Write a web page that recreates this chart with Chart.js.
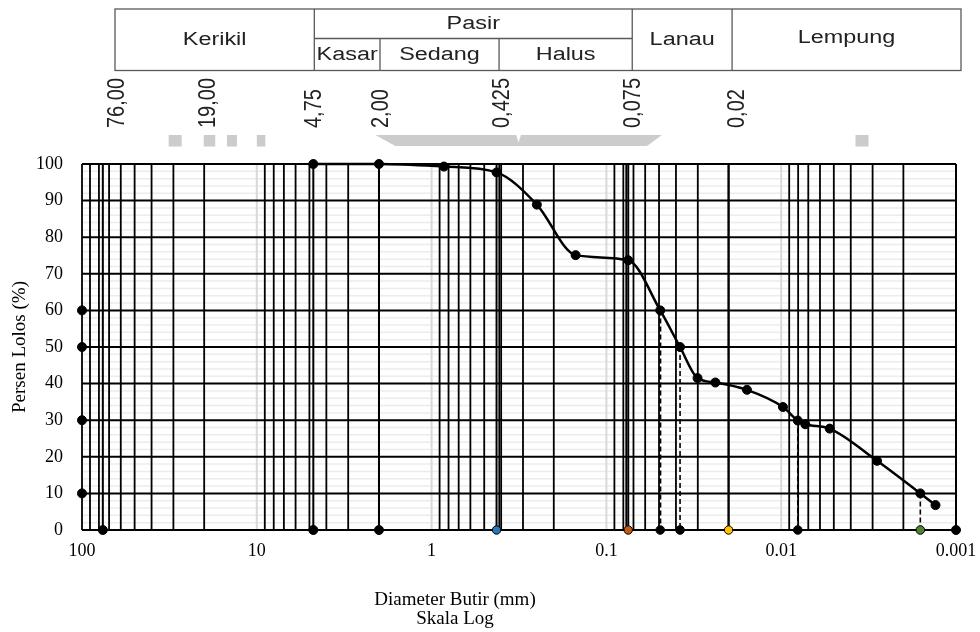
<!DOCTYPE html>
<html><head><meta charset="utf-8">
<script src="https://cdn.jsdelivr.net/npm/chart.js@4"></script>
<style>html,body{margin:0;padding:0;background:#fff}canvas{display:block}</style>
</head><body>
<canvas id="c" width="980" height="632" style="width:980px;height:632px"></canvas>
<script>
// ---- data ----
const diameters = [4.75, 2.0, 0.85, 0.425, 0.25, 0.15, 0.075, 0.0492, 0.0379, 0.0301, 0.0238, 0.0157, 0.00977, 0.00804, 0.00728, 0.00528, 0.00283, 0.0016, 0.00131];
const percentPassing = [100, 100, 99.3, 97.7, 88.9, 75.1, 73.7, 60.0, 50.0, 41.5, 40.3, 38.3, 33.6, 29.9, 28.9, 27.7, 18.9, 10.0, 6.8];
const dNames = ['D60', 'D50', 'D30', 'D10'];
const dDiameters = [0.0492, 0.0379, 0.00804, 0.0016];
const dPercents = [60, 50, 30, 10];
const dColors = ['#000000', '#000000', '#000000', '#548235'];
const boundaryDiameters = [76, 4.75, 2.0, 0.425, 0.075, 0.02, 0.001];
const boundaryColors = ['#000000', '#000000', '#000000', '#2e75b6', '#c55a11', '#ffc000', '#000000'];
const extraSieveLines = [0.41, 0.077];
const headerLabels = ['76,00', '19,00', '4,75', '2,00', '0,425', '0,075', '0,02'];
const headerLabelValues = [76, 19, 4.75, 2.0, 0.425, 0.075, 0.02];
const xTickValues = [100, 10, 1, 0.1, 0.01, 0.001];
const xTickLabels = ['100', '10', '1', '0.1', '0.01', '0.001'];
const soilClasses = ['Kerikil', 'Pasir', 'Lanau', 'Lempung'];
const sandClasses = ['Kasar', 'Sedang', 'Halus'];

// ---- datasets ----
const datasets = [];
datasets.push({
  label: 'Gradasi',
  data: diameters.map((d, i) => ({x: d, y: percentPassing[i]})),
  showLine: true, borderColor: '#000', borderWidth: 2.5,
  pointRadius: 4.5, pointBackgroundColor: '#000', pointBorderColor: '#000', pointBorderWidth: 1,
  cubicInterpolationMode: 'monotone', clip: false
});
dDiameters.forEach((d, i) => {
  datasets.push({
    label: dNames[i],
    data: [{x: d, y: dPercents[i]}, {x: d, y: 0}],
    showLine: true, borderColor: '#000', borderWidth: i === 0 ? 2.2 : 1.6, borderDash: [5, 3],
    pointRadius: [0, 4.3], pointBackgroundColor: dColors[i], pointBorderColor: '#000', pointBorderWidth: 1, clip: false
  });
});
datasets.push({
  label: 'axis',
  data: dPercents.map(p => ({x: 100, y: p})),
  showLine: false, pointRadius: 4.5, pointBackgroundColor: '#000', pointBorderColor: '#000', clip: false
});
boundaryDiameters.forEach((b, i) => {
  datasets.push({
    label: 'batas ' + b,
    data: [{x: b, y: 0}, {x: b, y: 100}],
    showLine: true, borderColor: '#000', borderWidth: 2,
    pointRadius: [boundaryColors[i] === '#000000' ? 4.5 : 4.2, 0],
    pointBackgroundColor: boundaryColors[i], pointBorderColor: '#000', pointBorderWidth: 1, clip: false
  });
});

// ---- grid drawn from the scales ----
const gridPlugin = {
  id: 'logGrid',
  beforeDatasetsDraw(chart) {
    const {ctx, chartArea: a, scales: {x, y}} = chart;
    const vline = v => { const p = x.getPixelForValue(v); ctx.beginPath(); ctx.moveTo(p, a.top); ctx.lineTo(p, a.bottom); ctx.stroke(); };
    const hline = v => { const p = y.getPixelForValue(v); ctx.beginPath(); ctx.moveTo(a.left, p); ctx.lineTo(a.right, p); ctx.stroke(); };
    ctx.save();
    ctx.strokeStyle = '#ececec'; ctx.lineWidth = 1.5;
    for (let v = 2; v < 100; v += 2) if (v % 10) hline(v);
    ctx.strokeStyle = '#d9d9d9'; ctx.lineWidth = 2;
    [10, 1, 0.1, 0.01].forEach(vline);
    ctx.strokeStyle = '#000'; ctx.lineWidth = 1.8;
    [10, 1, 0.1, 0.01, 0.001].forEach(d => { for (let k = 2; k <= 9; k++) vline(k * d); });
    extraSieveLines.forEach(vline);
    vline(100); vline(0.001);
    ctx.lineWidth = 2;
    for (let v = 0; v <= 100; v += 10) hline(v);
    ctx.restore();
  }
};

// ---- header table, labels and axis titles ----
const headerPlugin = {
  id: 'header',
  afterDraw(chart) {
    const {ctx, chartArea: a, scales: {x}} = chart;
    const px = v => x.getPixelForValue(v);
    ctx.save();
    // gray marks
    ctx.fillStyle = '#cccccc';
    const t0 = a.top - 29, t1 = a.top - 18;
    [[29.3, 13], [18.65, 11.5], [13.87, 10], [9.45, 8.5], [0.00345, 13]].forEach(([v, w]) => {
      ctx.fillRect(px(v) - w / 2, t0, w, t1 - t0 + 0.5);
    });
    ctx.beginPath();
    ctx.moveTo(px(2.10), t0); ctx.lineTo(px(0.328), t0); ctx.lineTo(px(0.318), t0 + 7.5);
    ctx.lineTo(px(0.308), t0); ctx.lineTo(px(0.0481), t0); ctx.lineTo(px(0.0586), t1);
    ctx.lineTo(px(1.61), t1); ctx.closePath(); ctx.fill();

    // table
    const top = 9, mid = 38.5, bot = 70.5;
    const L = a.left + 33, R = a.right + 5;
    const cK = px(4.75) + 1, cKs = px(2) + 1, cSd = px(0.425) + 2.5, cP = px(0.075) + 4, cLa = px(0.02) + 3.5;
    ctx.strokeStyle = '#595959'; ctx.lineWidth = 1.3;
    ctx.strokeRect(L, top, R - L, bot - top);
    const seg = (x1, y1, x2, y2) => { ctx.beginPath(); ctx.moveTo(x1, y1); ctx.lineTo(x2, y2); ctx.stroke(); };
    seg(cK, top, cK, bot); seg(cP, top, cP, bot); seg(cLa, top, cLa, bot);
    seg(cK, mid, cP, mid); seg(cKs, mid, cKs, bot); seg(cSd, mid, cSd, bot);
    const stretchText = (txt, cx, cy, size, sx) => {
      ctx.save(); ctx.translate(cx, cy); ctx.scale(sx, 1);
      ctx.font = size + 'px "Liberation Sans", Arial, sans-serif';
      ctx.fillStyle = '#222'; ctx.textAlign = 'center'; ctx.textBaseline = 'middle';
      ctx.fillText(txt, 0, 0); ctx.restore();
    };
    stretchText(soilClasses[0], (L + cK) / 2, 40, 18, 1.3);
    stretchText(soilClasses[1], (cK + cP) / 2, 24, 18, 1.3);
    stretchText(soilClasses[2], (cP + cLa) / 2, 40, 18, 1.3);
    stretchText(soilClasses[3], (cLa + R) / 2, 38, 18, 1.3);
    stretchText(sandClasses[0], (cK + cKs) / 2, 55, 18, 1.3);
    stretchText(sandClasses[1], (cKs + cSd) / 2, 55, 18, 1.3);
    stretchText(sandClasses[2], (cSd + cP) / 2, 55, 18, 1.3);

    // rotated boundary labels
    const shifts = [15, 0.5, 0.6, 2.7, 5.7, 4.7, 8.4];
    headerLabels.forEach((lab, i) => {
      ctx.save();
      ctx.translate(px(headerLabelValues[i]) + shifts[i], 128);
      ctx.scale(1.2, 1); ctx.rotate(-Math.PI / 2);
      ctx.font = '20px "Liberation Sans", Arial, sans-serif';
      ctx.fillStyle = '#222'; ctx.textAlign = 'left'; ctx.textBaseline = 'middle';
      ctx.fillText(lab, 0, 0); ctx.restore();
    });

    // axis titles
    ctx.fillStyle = '#000';
    ctx.font = '19px "Liberation Serif", "Times New Roman", serif';
    ctx.textAlign = 'center'; ctx.textBaseline = 'middle';
    ctx.fillText('Diameter Butir (mm)', 455, 600);
    ctx.fillText('Skala Log', 455, 619);
    ctx.save(); ctx.translate(20, (a.top + a.bottom) / 2); ctx.rotate(-Math.PI / 2);
    ctx.fillText('Persen Lolos (%)', 0, 0); ctx.restore();
    ctx.restore();
  }
};

const tickFont = {family: '"Liberation Serif", "Times New Roman", serif', size: 18};
new Chart(document.getElementById('c').getContext('2d'), {
  type: 'scatter',
  data: {datasets},
  options: {
    responsive: false, animation: false, devicePixelRatio: 1,
    layout: {padding: {top: 164, right: 24, left: 0, bottom: 0}},
    plugins: {legend: {display: false}, tooltip: {enabled: false}},
    scales: {
      x: {
        type: 'logarithmic', reverse: true, min: 0.001, max: 100,
        grid: {display: false, drawTicks: false}, border: {display: false},
        afterBuildTicks: s => { s.ticks = xTickValues.map(v => ({value: v})); },
        afterFit: s => { s.height = 102; s.paddingLeft = 0; s.paddingRight = 0; },
        ticks: {autoSkip: false, maxRotation: 0, padding: 10, color: '#000', font: tickFont,
          callback: (v) => xTickLabels[xTickValues.indexOf(v)] ?? ''}
      },
      y: {
        min: 0, max: 100,
        grid: {display: false, drawTicks: false}, border: {display: false},
        afterFit: s => { s.width = 82; s.paddingTop = 0; s.paddingBottom = 0; },
        ticks: {stepSize: 10, padding: 19, color: '#000', font: tickFont}
      }
    }
  },
  plugins: [gridPlugin, headerPlugin]
});
</script>
</body></html>
